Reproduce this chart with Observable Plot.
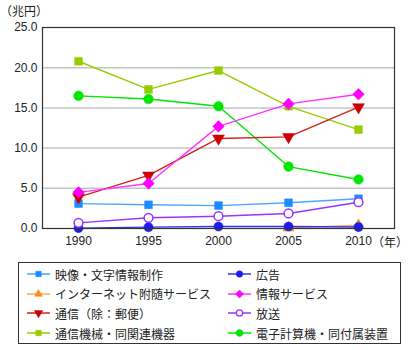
<!DOCTYPE html>
<html><head><meta charset="utf-8">
<script src="https://cdn.jsdelivr.net/npm/d3@7"></script>
<script src="https://cdn.jsdelivr.net/npm/@observablehq/plot@0.6"></script>
<style>
body{margin:0;background:#fff;font-family:"Liberation Sans","Noto Sans CJK JP",sans-serif;}
#wrap{position:relative;width:408px;height:350px;}
.lbl{position:absolute;font-size:12px;color:#222;font-family:"Noto Sans CJK JP",sans-serif;}
#legend{position:absolute;left:18px;top:262px;width:381px;height:80px;border:1px solid #333;font-family:"Noto Sans CJK JP",sans-serif;font-size:12px;color:#222;}
.item{position:absolute;height:16px;display:flex;align-items:center;white-space:nowrap;}
.item svg{margin-right:5px;}
</style></head>
<body><div id="wrap"></div>
<script>
const years = [1990, 1995, 2000, 2005, 2010];
const names = ["映像・文字情報制作","広告","インターネット附随サービス","情報サービス","通信（除：郵便）","放送","通信機械・同関連機器","電子計算機・同付属装置"];
const eizo     = [3.1, 2.95, 2.85, 3.2, 3.7];
const kokoku   = [0.05, 0.17, 0.25, 0.25, 0.18];
const internet = [null, null, null, 0.08, 0.4];
const joho     = [4.5, 5.6, 12.7, 15.5, 16.7];
const tsushin  = [3.9, 6.6, 11.2, 11.4, 15.1];
const hoso     = [0.7, 1.33, 1.53, 1.87, 3.27];
const kiki     = [20.8, 17.3, 19.65, 15.2, 12.3];
const keisanki = [16.5, 16.1, 15.2, 7.7, 6.1];
const yTicks = [0, 5, 10, 15, 20, 25];
const yUnit = "（兆円）";
const xUnit = "（年）";

const styles = [
  {color:"#1a8cff", line:"#4da6ff", symbol:"square", r:4.4, fill:null, rotate:0},
  {color:"#1c1cf0", line:"#3333ee", symbol:"circle", r:4.6, fill:null, rotate:0},
  {color:"#ff8c1a", line:"#ffaa55", symbol:"triangle", r:4.2, fill:null, rotate:0},
  {color:"#ff00ff", line:"#ff33ff", symbol:"diamond2", r:5.2, fill:null, rotate:0},
  {color:"#cc0000", line:"#d42020", symbol:"triangle", r:4.4, fill:null, rotate:180},
  {color:"#9933ff", line:"#9933ff", symbol:"circle", r:4.4, fill:"#fff", rotate:0},
  {color:"#99cc00", line:"#99cc00", symbol:"square", r:4.4, fill:null, rotate:0},
  {color:"#00e600", line:"#00e600", symbol:"circle", r:4.8, fill:null, rotate:0}
];
const values = [eizo, kokoku, internet, joho, tsushin, hoso, kiki, keisanki];
const drawOrder = [2, 1, 0, 5, 7, 6, 4, 3];

const marks = [
  Plot.ruleY([5,10,15,20], {stroke:"#c4c4c4", strokeWidth:1.5}),
];
for (const i of drawOrder) {
  const s = styles[i];
  const rows = years.map((y, j) => ({year: y, v: values[i][j]}));
  const def = rows.filter(d => d.v != null);
  marks.push(Plot.line(def, {x:"year", y:"v", stroke:s.line, strokeWidth:1.4}));
  marks.push(Plot.dot(def, {x:"year", y:"v", symbol:()=>s.symbol, r:s.r, rotate:s.rotate,
    fill: s.fill ?? s.color, stroke: s.color, strokeWidth: s.fill ? 1.5 : 0.5}));
}
marks.push(Plot.frame({stroke:"#333", strokeWidth:1.2}));

const chart = Plot.plot({
  width: 408, height: 250,
  marginLeft: 42, marginRight: 14, marginTop: 27, marginBottom: 22,
  style: {fontSize:"12px", fontFamily:"Liberation Sans, sans-serif", color:"#222", background:"#fff"},
  x: {type:"point", domain: years, padding:0.5, label:null, tickSize:0, tickPadding:8, tickFormat: d => String(d)},
  y: {domain:[0,25], ticks: yTicks, tickFormat: d3.format(".1f"), label:null, tickSize:0, tickPadding:5},
  symbol: {type:"identity"},
  marks
});
const wrap = document.getElementById("wrap");
wrap.appendChild(chart);

const u1 = document.createElement("div"); u1.className="lbl"; u1.textContent=yUnit;
u1.style.left="0px"; u1.style.top="2px"; wrap.appendChild(u1);
const u2 = document.createElement("div"); u2.className="lbl"; u2.textContent=xUnit;
u2.style.left="372px"; u2.style.top="233px"; wrap.appendChild(u2);

// legend
const legend = document.createElement("div"); legend.id="legend"; wrap.appendChild(legend);
names.forEach((n, i) => {
  const s = styles[i];
  const col = i % 2, row = Math.floor(i / 2);
  const it = document.createElement("div"); it.className="item";
  it.style.left = (col ? 209 : 8) + "px";
  it.style.top = (3 + row * 19.7) + "px";
  const svg = d3.create("svg").attr("width", 23).attr("height", 14);
  svg.append("line").attr("x1",0).attr("x2",23).attr("y1",7).attr("y2",7).attr("stroke", s.line).attr("stroke-width",1.5);
  const sym = {square:d3.symbolSquare, circle:d3.symbolCircle, triangle:d3.symbolTriangle, diamond2:d3.symbolDiamond2}[s.symbol];
  svg.append("path").attr("d", d3.symbol(sym, Math.PI*s.r*s.r*0.5)())
    .attr("transform", `translate(11.5,7) rotate(${s.rotate})`)
    .attr("fill", s.fill ?? s.color).attr("stroke", s.color).attr("stroke-width", s.fill ? 1.3 : 0.5);
  it.appendChild(svg.node());
  const t = document.createElement("span"); t.textContent = n; it.appendChild(t);
  legend.appendChild(it);
});
</script></body></html>
